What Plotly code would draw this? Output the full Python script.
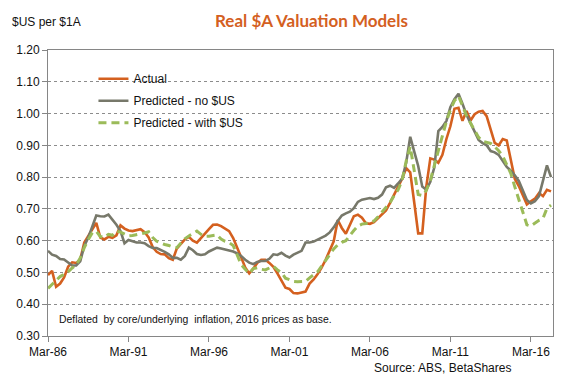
import pandas as pd
import plotly.graph_objects as go

dates = pd.date_range("1986-03-01", periods=126, freq="3MS")

actual = [
    0.492, 0.505, 0.455, 0.465, 0.484, 0.518, 0.532, 0.530, 0.540, 0.594,
    0.615, 0.636, 0.656, 0.610, 0.604, 0.612, 0.609, 0.617, 0.648, 0.638,
    0.632, 0.630, 0.634, 0.636, 0.627, 0.610, 0.580, 0.565, 0.558, 0.557,
    0.545, 0.540, 0.575, 0.590, 0.604, 0.612, 0.600, 0.594, 0.607, 0.620,
    0.636, 0.650, 0.651, 0.646, 0.638, 0.630, 0.608, 0.575, 0.548, 0.516,
    0.497, 0.512, 0.530, 0.540, 0.540, 0.530, 0.518, 0.497, 0.476, 0.452,
    0.448, 0.435, 0.434, 0.436, 0.440, 0.465, 0.478, 0.495, 0.515, 0.540,
    0.568, 0.598, 0.665, 0.640, 0.622, 0.650, 0.677, 0.682, 0.672, 0.655,
    0.653, 0.658, 0.670, 0.684, 0.695, 0.719, 0.745, 0.770, 0.795, 0.828,
    0.815, 0.720, 0.623, 0.623, 0.770, 0.859, 0.855, 0.845, 0.870, 0.920,
    0.960, 1.015, 1.018, 0.977, 1.008, 0.978, 0.998, 1.006, 1.008, 0.992,
    0.948, 0.908, 0.900, 0.920, 0.915, 0.850, 0.795, 0.772, 0.745, 0.714,
    0.724, 0.732, 0.750, 0.740, 0.760, 0.755,
]

pred_no_us = [
    0.568, 0.556, 0.552, 0.542, 0.541, 0.530, 0.522, 0.522, 0.535, 0.583,
    0.610, 0.645, 0.679, 0.677, 0.676, 0.682, 0.667, 0.650, 0.630, 0.592,
    0.602, 0.597, 0.594, 0.594, 0.592, 0.583, 0.577, 0.577, 0.572, 0.565,
    0.557, 0.546, 0.546, 0.540, 0.552, 0.578, 0.570, 0.558, 0.555, 0.557,
    0.566, 0.571, 0.578, 0.575, 0.572, 0.571, 0.566, 0.560, 0.552, 0.540,
    0.531, 0.526, 0.533, 0.536, 0.536, 0.543, 0.557, 0.555, 0.562, 0.553,
    0.547, 0.556, 0.563, 0.568, 0.594, 0.594, 0.597, 0.603, 0.610, 0.616,
    0.626, 0.642, 0.662, 0.679, 0.686, 0.691, 0.702, 0.722, 0.729, 0.732,
    0.734, 0.731, 0.735, 0.745, 0.768, 0.773, 0.766, 0.780, 0.795, 0.845,
    0.927, 0.880, 0.835, 0.770, 0.760, 0.785, 0.830, 0.945, 0.958, 0.977,
    1.020, 1.045, 1.062, 1.031, 0.996, 0.970, 0.945, 0.917, 0.907, 0.900,
    0.882, 0.878, 0.870, 0.852, 0.832, 0.820, 0.806, 0.788, 0.760, 0.728,
    0.717, 0.724, 0.740, 0.790, 0.837, 0.800,
]

pred_with_us = [
    0.450, 0.463, 0.476, 0.487, 0.494, 0.502, 0.514, 0.524, 0.545, 0.578,
    0.604, 0.625, 0.630, 0.613, 0.610, 0.620, 0.617, 0.630, 0.627, 0.622,
    0.615, 0.616, 0.618, 0.620, 0.624, 0.628, 0.610, 0.598, 0.592, 0.588,
    0.585, 0.580, 0.578, 0.592, 0.606, 0.615, 0.622, 0.630, 0.620, 0.614,
    0.614, 0.617, 0.618, 0.605, 0.598, 0.594, 0.585, 0.555, 0.525, 0.510,
    0.497, 0.512, 0.515, 0.510, 0.508, 0.514, 0.520, 0.508, 0.500, 0.482,
    0.476, 0.472, 0.471, 0.471, 0.472, 0.483, 0.492, 0.502, 0.520, 0.538,
    0.556, 0.574, 0.587, 0.595, 0.600, 0.617, 0.632, 0.646, 0.652, 0.654,
    0.657, 0.662, 0.675, 0.690, 0.702, 0.720, 0.742, 0.760, 0.790, 0.850,
    0.896, 0.825, 0.745, 0.742, 0.758, 0.790, 0.838, 0.888, 0.930, 0.975,
    1.012, 1.040, 1.055, 1.025, 0.993, 0.970, 0.945, 0.925, 0.913, 0.910,
    0.906, 0.896, 0.883, 0.866, 0.836, 0.812, 0.770, 0.728, 0.690, 0.650,
    0.646, 0.655, 0.664, 0.670, 0.702, 0.712,
]

tick_dates = ["1986-03-01", "1991-03-01", "1996-03-01", "2001-03-01",
              "2006-03-01", "2011-03-01", "2016-03-01"]
tick_labels = ["Mar-86", "Mar-91", "Mar-96", "Mar-01", "Mar-06", "Mar-11", "Mar-16"]
y_ticks = [0.30, 0.40, 0.50, 0.60, 0.70, 0.80, 0.90, 1.00, 1.10, 1.20]

FONT = "Liberation Sans, Arial, sans-serif"

fig = go.Figure()
fig.add_trace(go.Scatter(x=dates, y=actual, mode="lines", name="Actual",
                         legendgroup="a",
                         line=dict(color="#D4601F", width=2.6)))
fig.add_trace(go.Scatter(x=dates, y=pred_no_us, mode="lines", name="Predicted - no $US",
                         legendgroup="b",
                         line=dict(color="#77786A", width=2.6)))
fig.add_trace(go.Scatter(x=dates, y=pred_with_us, mode="lines", name="Predicted - with $US",
                         legendgroup="c",
                         line=dict(color="#9BBB59", width=3, dash="8px,5px")))

fig.update_layout(
    width=567, height=378,
    margin=dict(l=48, r=14, t=50, b=42),
    paper_bgcolor="white", plot_bgcolor="white",
    font=dict(family=FONT, size=12, color="#111"),
    showlegend=True,
    legend=dict(x=0.09, y=0.95, xanchor="left", yanchor="top",
                bgcolor="rgba(0,0,0,0)", font=dict(size=12, color="#111"),
                tracegroupgap=3, itemwidth=30),
    xaxis=dict(type="date", range=["1986-03-01", "2017-07-16"],
               tickmode="array", tickvals=tick_dates, ticktext=tick_labels,
               showgrid=False, showline=True, linecolor="#868686", linewidth=1,
               mirror=True, ticks="outside", ticklen=5, tickcolor="#868686",
               tickfont=dict(size=12, color="#111"), zeroline=False),
    yaxis=dict(range=[0.30, 1.20], tickmode="array", tickvals=y_ticks,
               tickformat=".2f", showgrid=True, gridcolor="#8c8c8c",
               griddash="dot", gridwidth=1,
               showline=True, linecolor="#868686", linewidth=1, mirror=True,
               ticks="outside", ticklen=5, tickcolor="#868686",
               tickfont=dict(size=12, color="#111"), zeroline=False),
    annotations=[
        dict(text="<b>Real $A Valuation Models</b>", xref="paper", yref="paper",
             x=0.522, y=1.0, yshift=30, xanchor="center", yanchor="middle",
             showarrow=False, font=dict(family="Lato, sans-serif", size=17, color="#D4601F")),
        dict(text="$US per $1A", xref="paper", yref="paper", x=0, xshift=-38,
             y=1.0, yshift=28, xanchor="left", yanchor="middle", showarrow=False,
             font=dict(size=12, color="#111")),
        dict(text="Deflated  by core/underlying  inflation, 2016 prices as base.",
             xref="paper", yref="paper", x=0, xshift=9, y=0, yshift=17,
             xanchor="left", yanchor="middle", showarrow=False,
             font=dict(size=10.4, color="#111")),
        dict(text="Source: ABS, BetaShares", xref="paper", yref="paper",
             x=0.92, y=0, yshift=-32, xanchor="right", yanchor="middle",
             showarrow=False, font=dict(size=12, color="#111")),
    ],
)

fig.write_html("out.html",
               config={"displayModeBar": False},
               post_script="document.body.style.margin='0';document.body.style.overflow='hidden';")
